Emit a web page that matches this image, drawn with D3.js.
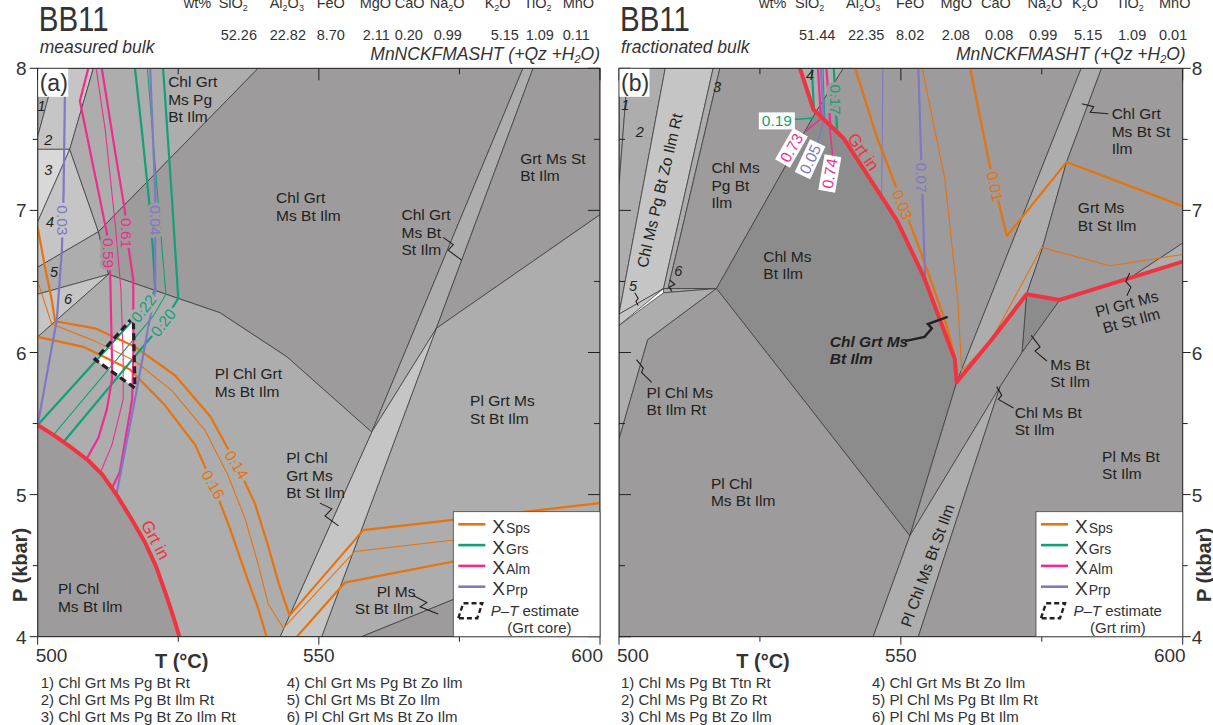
<!DOCTYPE html>
<html>
<head>
<meta charset="utf-8">
<script src="https://cdn.jsdelivr.net/npm/d3@7/dist/d3.min.js"></script>
<style>
  body { margin: 0; background: #fff; }
  svg text { font-family: "Liberation Sans", Arial, Helvetica, sans-serif; }
</style>
</head>
<body>
<svg id="fig" width="1213" height="725"></svg>
<script>
// ---------------- axes ----------------
const tDomain = [500, 600];
const pDomain = [4, 8];
const tMajor = [500, 550, 600];
const tMinor = [525, 575];
const pMajor = [4, 5, 6, 7, 8];
const pMinor = [4.5, 5.5, 6.5, 7.5];

// ---------------- bulk compositions (wt%) ----------------
const oxides = ["SiO2", "Al2O3", "FeO", "MgO", "CaO", "Na2O", "K2O", "TiO2", "MnO"];
const bulkMeasured = [52.26, 22.82, 8.70, 2.11, 0.20, 0.99, 5.15, 1.09, 0.11];
const bulkFractionated = [51.44, 22.35, 8.02, 2.08, 0.08, 0.99, 5.15, 1.09, 0.01];

// ---------------- (a) measured bulk: fields [T °C, P kbar] ----------------
const grtInA = [[500, 5.49], [503, 5.415], [506, 5.33], [509, 5.24], [511.5, 5.14], [514, 5.0],
  [516.5, 4.84], [519, 4.67], [521, 4.5], [522.8, 4.3], [524.2, 4.13], [525.2, 4.0]];

const fieldsA = [
  { name: "Chl Grt Ms Pg Bt Rt", pts: [[500, 8], [503.3, 8], [500, 7.52]] },
  { name: "Chl Grt Ms Pg Bt Ilm Rt", pts: [[503.3, 8], [509.9, 8], [505.7, 7.43], [500, 7.43], [500, 7.52]] },
  { name: "Chl Grt Ms Pg Bt Zo Ilm Rt", pts: [[500, 7.43], [505.7, 7.43], [500, 6.92]] },
  { name: "Chl Grt Ms Pg Bt Zo Ilm", pts: [[500, 6.92], [505.7, 7.43], [510.8, 6.85], [500, 6.6]] },
  { name: "Chl Grt Ms Bt Zo Ilm", pts: [[500, 6.6], [510.8, 6.85], [512.6, 6.55], [500, 6.41]] },
  { name: "Pl Chl Grt Ms Bt Zo Ilm", pts: [[500, 6.41], [512.6, 6.55], [500, 6.11]] },
  { name: "Chl Grt Ms Pg Bt Ilm", pts: [[509.9, 8], [539.2, 8], [510.8, 6.85], [505.7, 7.43]] },
  { name: "Chl Grt Ms Bt Ilm", pts: [[539.2, 8], [586.3, 8], [559.4, 5.44], [544.3, 5.97], [532.4, 6.28], [520.6, 6.44], [512.6, 6.55], [510.8, 6.85]] },
  { name: "Chl Grt Ms Bt St Ilm", pts: [[586.3, 8], [588.1, 8], [570.9, 6.17], [559.4, 5.44]] },
  { name: "Grt Ms St Bt Ilm", pts: [[588.1, 8], [600, 8], [600, 6.97], [570.9, 6.17]] },
  { name: "Pl Grt Ms St Bt Ilm", pts: [[570.9, 6.17], [600, 6.97], [600, 4.68], [557.6, 4], [550.5, 4]] },
  { name: "Pl Ms St Bt Ilm", pts: [[557.6, 4], [600, 4.68], [600, 4]] },
  { name: "Pl Chl Grt Ms Bt St Ilm", pts: [[559.4, 5.44], [570.9, 6.17], [550.5, 4], [543.1, 4]] },
  { name: "Pl Chl Grt Ms Bt Ilm", pts: [[500, 6.11], [512.6, 6.55], [520.6, 6.44], [532.4, 6.28], [544.3, 5.97], [559.4, 5.44], [543.1, 4]].concat(grtInA.slice().reverse()) },
  { name: "Pl Chl Ms Bt Ilm", pts: grtInA.concat([[500, 4]]) }
];

// garnet isopleths (a): step "major" = labelled contour
const isoplethsA = [
  { phase: "Sps", step: "major", pts: [[500, 6.88], [501.3, 6.6], [502.5, 6.37], [503.1, 6.22], [510.2, 6.17], [517.3, 6.04], [524.4, 5.84], [530.7, 5.55], [535.4, 5.21], [538.6, 4.94], [540.9, 4.65], [542.9, 4.37], [544.8, 4.15], [557.9, 4.75], [600, 4.94]] },
  { phase: "Sps", step: "minor", pts: [[500, 6.5], [502.5, 6.2], [510.2, 6.08], [517.3, 5.94], [523.9, 5.73], [529.8, 5.45], [533.8, 5.14], [536.9, 4.83], [539.2, 4.51], [541, 4.23], [543.7, 4.06], [556.4, 4.6], [600, 4.8]] },
  { phase: "Sps", step: "major", pts: [[500, 6.11], [508.1, 6.04], [516.4, 5.88], [522.6, 5.63], [528, 5.35], [531.2, 5.07], [534.2, 4.76], [537, 4.44], [539.2, 4.2], [540.7, 4.0]] },
  { phase: "Sps", step: "major", pts: [[546.1, 4.0], [554.6, 4.38], [600, 4.73]] },
  { phase: "Grs", step: "major", pts: [[517.3, 8], [518.5, 7.57], [519.8, 7.07], [520.5, 6.72], [520.9, 6.44], [518.8, 6.31], [500, 5.49]] },
  { phase: "Grs", step: "minor", pts: [[519.5, 8], [521.4, 7.07], [522.8, 6.41], [520.6, 6.26], [502.8, 5.42]] },
  { phase: "Grs", step: "major", pts: [[522.3, 8], [523.9, 7.07], [525, 6.38], [522.3, 6.21], [504.6, 5.37]] },
  { phase: "Alm", step: "major", pts: [[509, 8], [507.5, 7.77], [512.3, 6.84], [512.9, 6.54], [513.2, 5.97], [513.2, 5.81], [512.3, 5.6], [510.8, 5.4], [508.7, 5.25]] },
  { phase: "Alm", step: "minor", pts: [[510.4, 8], [512, 7.57], [513.9, 6.86], [514.8, 6.44], [515.2, 5.97], [515.2, 5.67], [513.2, 5.35], [511.1, 5.15]] },
  { phase: "Alm", step: "major", pts: [[511.4, 8], [513.7, 7.43], [515.5, 7.0], [515.8, 6.84], [517, 6.51], [517, 5.97], [516.8, 5.67], [514.6, 5.16], [513.2, 5.045]] },
  { phase: "Prp", step: "major", pts: [[504.9, 8], [504.6, 7.12], [504.3, 6.72], [503.4, 6.23], [502.2, 5.97], [500, 5.49]] },
  { phase: "Prp", step: "major", pts: [[520, 8], [520.9, 7.12], [520.9, 6.44], [518.7, 5.97], [517.3, 5.67], [514, 5.0]] }
];
const isoLabelsA = [
  { phase: "Prp", text: "0.03", at: [504.45, 6.93], angle: 90 },
  { phase: "Alm", text: "0.59", at: [512.6, 6.70], angle: 90 },
  { phase: "Alm", text: "0.61", at: [515.8, 6.84], angle: 90 },
  { phase: "Prp", text: "0.04", at: [520.9, 6.93], angle: 90 },
  { phase: "Grs", text: "0.22", at: [518.8, 6.31], angle: -52 },
  { phase: "Grs", text: "0.20", at: [522.3, 6.21], angle: -52 },
  { phase: "Sps", text: "0.14", at: [535.4, 5.21], angle: 58 },
  { phase: "Sps", text: "0.16", at: [531.2, 5.07], angle: 60 }
];
const estimateA = [[517, 6.25], [510.2, 5.95], [517.3, 5.75]];

const fieldLabelsA = [
  { lines: ["Chl Grt", "Ms Pg", "Bt Ilm"], at: [523.2, 7.865] },
  { lines: ["Chl Grt", "Ms Bt Ilm"], at: [542.4, 7.05] },
  { lines: ["Chl Grt", "Ms Bt", "St Ilm"], at: [564.7, 6.93] },
  { lines: ["Grt Ms St", "Bt Ilm"], at: [585.8, 7.33] },
  { lines: ["Pl Chl Grt", "Ms Bt Ilm"], at: [531.5, 5.81] },
  { lines: ["Pl Grt Ms", "St Bt Ilm"], at: [576.9, 5.62] },
  { lines: ["Pl Chl", "Grt Ms", "Bt St Ilm"], at: [544.2, 5.22] },
  { lines: ["Pl Ms"], at: [560.3, 4.28] },
  { lines: ["St Bt Ilm"], at: [556.4, 4.16] },
  { lines: ["Pl Chl", "Ms Bt Ilm"], at: [503.6, 4.30] }
];
const fieldNumbersA = [["1", 500.7, 7.70], ["2", 501.9, 7.46], ["3", 501.9, 7.25], ["4", 502.2, 6.88], ["5", 502.9, 6.53], ["6", 505.4, 6.34]];
const leadersA = [
  [[572.1, 6.81], [573.9, 6.76], [573.0, 6.72], [575.4, 6.65]],
  [[550.2, 4.94], [552.3, 4.90], [551.1, 4.85], [553.5, 4.78]],
  [[566.8, 4.29], [569.2, 4.24], [568.0, 4.21], [571.2, 4.16]]
];
const grtInLabelA = { at: [520.9, 4.68], angle: 62 };
const smallFieldsA = ["Chl Grt Ms Pg Bt Rt", "Chl Grt Ms Pg Bt Ilm Rt", "Chl Grt Ms Pg Bt Zo Ilm Rt",
  "Chl Grt Ms Pg Bt Zo Ilm", "Chl Grt Ms Bt Zo Ilm", "Pl Chl Grt Ms Bt Zo Ilm"];

// ---------------- (b) fractionated bulk ----------------
const grtInB = [[532.1, 8], [534.5, 7.71], [539.8, 7.51], [549.3, 6.93], [554, 6.54], [559.6, 5.95], [559.9, 5.79],
  [566.1, 6.09], [572.3, 6.41], [578.2, 6.37], [600, 6.64]];

const fieldsB = [
  { name: "Chl Ms Pg Bt Ttn Rt", pts: [[500, 8], [501.6, 8], [500, 7.17]] },
  { name: "Chl Ms Pg Bt Zo Rt", pts: [[501.6, 8], [508.2, 8], [500, 6.27], [500, 7.17]] },
  { name: "Chl Ms Pg Bt Zo Ilm Rt", pts: [[508.2, 8], [516.7, 8], [507.9, 6.45], [500, 6.27]] },
  { name: "Chl Ms Pg Bt Zo Ilm", pts: [[516.7, 8], [517.9, 8], [508.7, 6.45], [507.9, 6.45]] },
  { name: "Pl Chl Ms Pg Bt Ilm Rt", pts: [[500, 6.27], [507.9, 6.45], [500, 6.19]] },
  { name: "Pl Chl Ms Pg Bt Ilm", pts: [[507.9, 6.45], [517.3, 6.45], [507.9, 6.42]] },
  { name: "Pl Chl Ms Bt Ilm Rt", pts: [[500, 6.19], [507.9, 6.42], [517.3, 6.45], [505.1, 6.09], [500, 5.39]] },
  { name: "Chl Ms Pg Bt Ilm", pts: [[517.9, 8], [532.1, 8], [534.5, 7.71], [534.9, 7.69], [517.3, 6.45], [508.7, 6.45]] },
  { name: "Chl Grt Ms Bt Zo Ilm", pts: [[532.1, 8], [539.8, 8], [534.9, 7.69], [534.5, 7.71]] },
  { name: "Chl Ms Bt Ilm", pts: [[517.3, 6.45], [534.9, 7.69], [539.8, 7.51], [549.3, 6.93], [554, 6.54], [559.6, 5.95], [559.9, 5.79], [551.6, 4.71]] },
  { name: "Pl Chl Ms Bt Ilm", pts: [[500, 5.39], [505.1, 6.09], [517.3, 6.45], [551.6, 4.71], [545.1, 4], [500, 4]] },
  { name: "Chl Grt Ms Bt Ilm", pts: [[534.9, 7.69], [539.8, 8], [582, 8], [559.9, 5.79], [559.6, 5.95], [554, 6.54], [549.3, 6.93], [539.8, 7.51]] },
  { name: "Chl Grt Ms Bt St Ilm", pts: [[582, 8], [585.6, 8], [579.4, 7.34], [575, 6.72], [572.3, 6.41], [566.1, 6.09], [559.9, 5.79]] },
  { name: "Grt Ms Bt St Ilm", pts: [[585.6, 8], [600, 8], [600, 6.77], [587.4, 6.44], [578.2, 6.37], [572.3, 6.41], [575, 6.72], [579.4, 7.34]] },
  { name: "Pl Grt Ms Bt St Ilm", pts: [[600, 6.77], [600, 6.64], [578.2, 6.37], [587.4, 6.44]] },
  { name: "Ms Bt St Ilm", pts: [[572.3, 6.41], [578.2, 6.37], [571.5, 6.0]] },
  { name: "Chl Ms Bt St Ilm", pts: [[559.9, 5.79], [566.1, 6.09], [572.3, 6.41], [571.5, 6.0], [567.6, 5.76], [551.6, 4.71]] },
  { name: "Pl Chl Ms Bt St Ilm", pts: [[551.6, 4.71], [567.6, 5.76], [553.1, 4], [545.1, 4]] },
  { name: "Pl Ms Bt St Ilm", pts: [[553.1, 4], [567.6, 5.76], [571.5, 6.0], [578.2, 6.37], [600, 6.64], [600, 4]] }
];

const isoplethsB = [
  { phase: "Sps", step: "major", pts: [[541.9, 8], [545.7, 7.52], [549.3, 7.15], [553.4, 6.72], [557.8, 6.23], [559.6, 5.97]] },
  { phase: "Sps", step: "minor", pts: [[553.8, 8], [557.8, 7.22], [560.1, 6.37], [560.8, 5.87], [566.1, 6.09], [575, 6.74], [587.1, 6.61], [600, 6.69]] },
  { phase: "Sps", step: "major", pts: [[562.3, 8], [565.8, 7.31], [568.8, 6.82], [579.4, 7.34], [600, 7.03]] },
  { phase: "Grs", step: "major", pts: [[534.2, 8], [534.6, 7.70]] },
  { phase: "Grs", step: "minor", pts: [[536.2, 8], [536.5, 7.63]] },
  { phase: "Grs", step: "major", pts: [[538.1, 8], [538.7, 7.55]] },
  { phase: "Alm", step: "major", pts: [[535.3, 8], [535.8, 7.665]] },
  { phase: "Alm", step: "major", pts: [[536.8, 8], [537.5, 7.60]] },
  { phase: "Prp", step: "major", pts: [[535.8, 8], [536.3, 7.645]] },
  { phase: "Prp", step: "minor", pts: [[546.8, 8], [546.6, 7.09]] },
  { phase: "Prp", step: "major", pts: [[553.1, 8], [554.3, 6.52]] }
];
const isoLabelsB = [
  { phase: "Grs", text: "0.17", at: [538.4, 7.78], angle: 90 },
  { phase: "Prp", text: "0.07", at: [553.7, 7.23], angle: 90 },
  { phase: "Sps", text: "0.03", at: [550.3, 7.04], angle: 68 },
  { phase: "Sps", text: "0.01", at: [566.7, 7.17], angle: 78 }
];
const boxedLabelsB = [
  { phase: "Alm", text: "0.73", at: [530.6, 7.44], angle: -60, leader: [[533.2, 7.56], [535.7, 7.64]] },
  { phase: "Prp", text: "0.05", at: [533.9, 7.36], angle: -65, leader: [[535.2, 7.47], [536.2, 7.62]] },
  { phase: "Alm", text: "0.74", at: [537.4, 7.26], angle: -80, leader: [[537.9, 7.38], [537.4, 7.58]] },
  { phase: "Grs", text: "0.19", at: [528.0, 7.63], angle: 0, leader: [[531, 7.64], [534.5, 7.65]] }
];
const fieldLabelsB = [
  { lines: ["Chl Ms", "Pg Bt", "Ilm"], at: [516.4, 7.26] },
  { lines: ["Chl Ms", "Bt Ilm"], at: [525.6, 6.64] },
  { lines: ["Chl Grt Ms", "Bt Ilm"], at: [537.4, 6.04], key: true },
  { lines: ["Pl Chl Ms", "Bt Ilm Rt"], at: [504.9, 5.68] },
  { lines: ["Pl Chl", "Ms Bt Ilm"], at: [516.3, 5.04] },
  { lines: ["Ms Bt", "St Ilm"], at: [576.5, 5.88] },
  { lines: ["Chl Ms Bt", "St Ilm"], at: [570.2, 5.54] },
  { lines: ["Pl Ms Bt", "St Ilm"], at: [585.7, 5.23] },
  { lines: ["Grt Ms", "Bt St Ilm"], at: [581.4, 6.98] },
  { lines: ["Chl Grt", "Ms Bt St", "Ilm"], at: [587.4, 7.64] }
];
const rotatedLabelsB = [
  { lines: ["Chl Ms Pg Bt Zo Ilm Rt"], at: [507.3, 7.14], angle: -77 },
  { lines: ["Pl Chl Ms Bt St Ilm"], at: [554.8, 4.50], angle: -70 },
  { lines: ["Pl Grt Ms", "Bt St Ilm"], at: [590.1, 6.34], angle: -15 }
];
const fieldNumbersB = [["1", 501.1, 7.71], ["2", 503.7, 7.52], ["3", 517.4, 7.83], ["4", 533.9, 7.92], ["5", 502.5, 6.43], ["6", 510.5, 6.54]];
const leadersB = [
  { pts: [[550.7, 6.08], [554.2, 6.11], [555.5, 6.17], [554.8, 6.20], [558.3, 6.25]], key: true },
  { pts: [[582.1, 7.75], [584.2, 7.73], [583.6, 7.69], [586.8, 7.68]] },
  { pts: [[590.6, 6.56], [589.9, 6.50], [590.8, 6.46], [590.1, 6.40]] },
  { pts: [[573.1, 6.12], [574.7, 6.04], [573.8, 6.01], [575.9, 5.94]] },
  { pts: [[567.0, 5.76], [567.9, 5.70], [567.3, 5.67], [570.0, 5.61]] },
  { pts: [[503.1, 5.95], [504.3, 5.89], [504.0, 5.86], [505.8, 5.79]] },
  { pts: [[502.8, 6.42], [503.4, 6.38], [503.0, 6.36], [503.4, 6.33]] },
  { pts: [[509.0, 6.51], [509.9, 6.48], [508.9, 6.46], [509.4, 6.43]] }
];
const grtInLabelB = { at: [543.3, 7.41], angle: 55 };
const smallFieldsB = ["Chl Ms Pg Bt Ttn Rt", "Chl Ms Pg Bt Zo Rt", "Chl Ms Pg Bt Zo Ilm",
  "Chl Grt Ms Bt Zo Ilm", "Pl Chl Ms Pg Bt Ilm Rt", "Pl Chl Ms Pg Bt Ilm"];

// ---------------- styling ----------------
const phaseColor = { Sps: "#e8720c", Grs: "#12a078", Alm: "#ee2d8f", Prp: "#7f78c4" };
const grtInColor = "#ef3340";
const shadeByVariance = { 4: "#8d8c8c", 5: "#9d9b9b", 6: "#adadad", 7: "#c5c5c5", 8: "#d8d8d8" };
const ink = "#231f20";
const TOP = 68.3, BOTTOM = 636.7;

const svg = d3.select("#fig");
const fieldFill = name => shadeByVariance[name.split(" ").length];

// digits drawn as subscripts
function withSubscripts(sel, str, size) {
  const parts = str.match(/\d+|\D+/g);
  let lowered = false;
  parts.forEach(s => {
    const isNum = /^\d+$/.test(s);
    const t = sel.append("tspan").text(s);
    if (isNum) { t.attr("font-size", size * 0.62).attr("dy", lowered ? 0 : 3); lowered = true; }
    else if (lowered) { t.attr("dy", -3); lowered = false; }
  });
}

function drawPanel(p) {
  const x = d3.scaleLinear(tDomain, [p.left, p.right]);
  const y = d3.scaleLinear(pDomain, [BOTTOM, TOP]);
  const line = d3.line().x(d => x(d[0])).y(d => y(d[1]));
  const g = svg.append("g");
  const clipId = "plot-clip-" + p.id;
  svg.append("clipPath").attr("id", clipId).append("rect")
    .attr("x", p.left).attr("y", TOP).attr("width", p.right - p.left).attr("height", BOTTOM - TOP);
  const plot = g.append("g").attr("clip-path", `url(#${clipId})`);

  // assemblage fields
  plot.append("g").selectAll("path").data(p.fields).join("path")
    .attr("d", d => line(d.pts) + "Z")
    .attr("fill", d => fieldFill(d.name))
    .attr("stroke", "#3a3a3a").attr("stroke-width", 0.75).attr("stroke-linejoin", "round");

  if (p.estimate) {
    plot.append("path").attr("d", line(p.estimate) + "Z").attr("fill", "#fff");
  }

  // isopleths
  const iso = p.isopleths.slice().sort((a, b) => (a.step === "minor" ? -1 : 1) - (b.step === "minor" ? -1 : 1));
  plot.append("g").selectAll("path").data(iso).join("path")
    .attr("d", d => line(d.pts)).attr("fill", "none")
    .attr("stroke", d => phaseColor[d.phase])
    .attr("stroke-width", d => d.step === "major" ? 2.2 : 1.1)
    .attr("stroke-linejoin", "round");

  // garnet-in
  plot.append("path").attr("d", line(p.grtIn)).attr("fill", "none")
    .attr("stroke", grtInColor).attr("stroke-width", 4).attr("stroke-linejoin", "round");

  if (p.estimate) {
    plot.append("path").attr("d", line(p.estimate) + "Z").attr("fill", "none")
      .attr("stroke", "#222").attr("stroke-width", 3.2).attr("stroke-dasharray", "7,4");
  }

  // frame
  g.append("rect").attr("x", p.left).attr("y", TOP).attr("width", p.right - p.left).attr("height", BOTTOM - TOP)
    .attr("fill", "none").attr("stroke", "#222").attr("stroke-width", 1);

  // ticks
  const tk = g.append("g").attr("stroke", "#222").attr("stroke-width", 1);
  const tickLen = (major) => major ? 8 : 5;
  const inLen = (major) => major ? 12 : 6;
  tMajor.concat(tMinor).forEach(t => {
    const major = tMajor.includes(t);
    tk.append("line").attr("x1", x(t)).attr("x2", x(t)).attr("y1", BOTTOM).attr("y2", BOTTOM + tickLen(major));
    tk.append("line").attr("x1", x(t)).attr("x2", x(t)).attr("y1", TOP).attr("y2", TOP + inLen(major));
  });
  pMajor.concat(pMinor).forEach(v => {
    const major = pMajor.includes(v);
    if (p.id === "a") {
      tk.append("line").attr("x1", p.left - tickLen(major)).attr("x2", p.left).attr("y1", y(v)).attr("y2", y(v));
      tk.append("line").attr("x1", p.right - inLen(major)).attr("x2", p.right).attr("y1", y(v)).attr("y2", y(v));
    } else {
      tk.append("line").attr("x1", p.left).attr("x2", p.left + inLen(major)).attr("y1", y(v)).attr("y2", y(v));
      tk.append("line").attr("x1", p.right).attr("x2", p.right + tickLen(major)).attr("y1", y(v)).attr("y2", y(v));
    }
  });
  // tick labels
  const tl = g.append("g").attr("font-size", 19).attr("fill", "#333");
  tMajor.forEach((t, i) => {
    tl.append("text").attr("x", x(t) + (i === 0 ? -2 : i === 2 ? 3 : 0)).attr("y", 662)
      .attr("text-anchor", i === 0 ? "start" : i === 2 ? "end" : "middle").text(t);
  });
  pMajor.forEach(v => {
    if (p.id === "a") tl.append("text").attr("x", p.left - 11).attr("y", y(v) + 7).attr("text-anchor", "end").text(v);
    else tl.append("text").attr("x", p.right + 9).attr("y", y(v) + 7).attr("text-anchor", "start").text(v);
  });
  g.append("text").attr("x", p.left + 144).attr("y", 668).attr("text-anchor", "middle")
    .attr("font-size", 20).attr("font-weight", "bold").attr("fill", "#333").text("T (°C)");
  const px = p.id === "a" ? 20 : 1204;
  g.append("text").attr("transform", `translate(${px},565) rotate(-90)`).attr("text-anchor", "middle")
    .attr("font-size", 20).attr("font-weight", "bold").attr("fill", "#333").attr("dy", 7).text("P (kbar)");

  // leaders
  const lead = g.append("g").attr("fill", "none").attr("stroke", ink);
  p.leaders.forEach(l => {
    const pts = l.pts || l;
    lead.append("path").attr("d", line(pts)).attr("stroke-width", l.key ? 2.4 : 1.1);
  });

  // field labels
  const fl = g.append("g").attr("font-size", 15.5).attr("fill", ink);
  p.fieldLabels.forEach(f => {
    const t = fl.append("text").attr("x", x(f.at[0])).attr("y", y(f.at[1]));
    if (f.key) t.attr("font-weight", "bold").attr("font-style", "italic");
    f.lines.forEach((s, i) => t.append("tspan").attr("x", x(f.at[0])).attr("dy", i === 0 ? 0 : 17.5).text(s));
  });
  (p.rotatedLabels || []).forEach(f => {
    const t = fl.append("text").attr("text-anchor", "middle")
      .attr("transform", `translate(${x(f.at[0])},${y(f.at[1])}) rotate(${f.angle})`).attr("dy", 5);
    f.lines.forEach((s, i) => t.append("tspan").attr("x", 0).attr("dy", i === 0 ? 5 : 17.5).text(s));
  });
  p.numbers.forEach(([s, T, P]) => {
    fl.append("text").attr("x", x(T)).attr("y", y(P)).attr("text-anchor", "middle")
      .attr("font-style", "italic").attr("font-size", 14.5).text(s);
  });

  // isopleth labels: knocked out of the field colour beneath
  const bgAt = (T, P) => {
    const f = p.fields.slice().reverse().find(f => d3.polygonContains(f.pts, [T, P]));
    return f ? fieldFill(f.name) : "#fff";
  };
  p.isoLabels.forEach(l => {
    g.append("text").attr("transform", `translate(${x(l.at[0])},${y(l.at[1])}) rotate(${l.angle})`)
      .attr("text-anchor", "middle").attr("dy", 5.5).attr("font-size", 15.5)
      .attr("fill", phaseColor[l.phase]).attr("stroke", bgAt(l.at[0], l.at[1]))
      .attr("stroke-width", 6).attr("stroke-linejoin", "round").attr("paint-order", "stroke").text(l.text);
  });
  (p.boxed || []).forEach(l => {
    g.append("path").attr("d", line(l.leader)).attr("fill", "none")
      .attr("stroke", phaseColor[l.phase]).attr("stroke-width", 1.6);
  });
  (p.boxed || []).forEach(l => {
    const gg = g.append("g").attr("transform", `translate(${x(l.at[0])},${y(l.at[1])}) rotate(${l.angle})`);
    gg.append("rect").attr("x", -18).attr("y", -8.5).attr("width", 36).attr("height", 17).attr("fill", "#fff");
    gg.append("text").attr("text-anchor", "middle").attr("dy", 5.5).attr("font-size", 15.5)
      .attr("fill", phaseColor[l.phase]).text(l.text);
  });
  g.append("text").attr("transform", `translate(${x(p.grtInLabel.at[0])},${y(p.grtInLabel.at[1])}) rotate(${p.grtInLabel.angle})`)
    .attr("text-anchor", "middle").attr("dy", 5.5).attr("font-size", 17).attr("fill", grtInColor).text("Grt in");

  // panel letter
  g.append("rect").attr("x", p.left + 0.5).attr("y", TOP + 0.5).attr("width", 30).attr("height", 28).attr("fill", "#fff");
  g.append("text").attr("x", p.left + 2).attr("y", TOP + 23).attr("font-size", 23).attr("fill", "#333").text(`(${p.id})`);

  // legend
  const lg = g.append("g").attr("transform", `translate(${p.right - 146.7},511.7)`);
  lg.append("rect").attr("width", 146.7).attr("height", 125).attr("fill", "#fff").attr("stroke", "#444").attr("stroke-width", 0.8);
  ["Sps", "Grs", "Alm", "Prp"].forEach((ph, i) => {
    const yy = 12.6 + i * 20.8;
    lg.append("line").attr("x1", 5).attr("x2", 32).attr("y1", yy).attr("y2", yy)
      .attr("stroke", phaseColor[ph]).attr("stroke-width", 2.6);
    const t = lg.append("text").attr("x", 39).attr("y", yy + 8.5).attr("fill", "#333");
    t.append("tspan").attr("font-size", 19).text("X");
    t.append("tspan").attr("font-size", 14).attr("dx", 1).text(ph);
  });
  lg.append("path").attr("d", "M5,106.5 L10,91.5 L29,91.5 L24,106.5 Z").attr("fill", "none")
    .attr("stroke", "#222").attr("stroke-width", 2.4).attr("stroke-dasharray", "5,3");
  const et = lg.append("text").attr("x", 37.5).attr("y", 104.5).attr("font-size", 15).attr("fill", "#333");
  et.append("tspan").attr("font-style", "italic").text("P");
  et.append("tspan").text("–");
  et.append("tspan").attr("font-style", "italic").text("T");
  et.append("tspan").text(" estimate");
  lg.append("text").attr("x", 54).attr("y", 121.5).attr("font-size", 15).attr("fill", "#333").text(p.rimCore);

  // header
  const hd = g.append("g").attr("fill", "#333");
  hd.append("text").attr("transform", `translate(${p.left + 1},31) scale(0.82,1)`).attr("font-size", 36).text("BB11");
  hd.append("text").attr("x", p.left + 2).attr("y", 53).attr("font-size", 17.5).attr("font-style", "italic").text(p.subtitle);
  const sys = hd.append("text").attr("x", p.right + p.sysShift).attr("y", 60).attr("font-size", 17.5)
    .attr("font-style", "italic").attr("text-anchor", "end");
  withSubscripts(sys, "MnNCKFMASHT (+Qz +H2O)", 17.5);
  hd.append("text").attr("x", p.left + p.wtAt).attr("y", 8).attr("font-size", 14.5).text("wt%");
  oxides.forEach((ox, i) => {
    const t = hd.append("text").attr("x", p.left + p.oxAt[i]).attr("y", 8).attr("font-size", 14.5);
    withSubscripts(t, ox, 14.5);
    hd.append("text").attr("x", p.left + p.numAt[i]).attr("y", 40).attr("font-size", 14.5)
      .text(p.bulk[i].toFixed(2));
  });

  // small-field key
  const key = g.append("g").attr("font-size", 15).attr("fill", "#333");
  p.small.forEach((s, i) => {
    const col = i < 3 ? 0 : 1;
    key.append("text").attr("x", p.left + p.keyCols[col]).attr("y", 688 + (i % 3) * 17)
      .text(`${i + 1}) ${s}`);
  });
}

drawPanel({
  id: "a", left: 37.7, right: 600,
  fields: fieldsA, isopleths: isoplethsA, grtIn: grtInA, estimate: estimateA,
  isoLabels: isoLabelsA, fieldLabels: fieldLabelsA, numbers: fieldNumbersA, leaders: leadersA,
  grtInLabel: grtInLabelA, rimCore: "(Grt core)", subtitle: "measured bulk", bulk: bulkMeasured,
  small: smallFieldsA, keyCols: [3, 249], sysShift: 0,
  wtAt: 146, oxAt: [181, 232, 279, 322, 357, 392, 447, 486, 525], numAt: [183, 232, 279, 325, 357, 396, 453, 488, 525]
});
drawPanel({
  id: "b", left: 619, right: 1182.7,
  fields: fieldsB, isopleths: isoplethsB, grtIn: grtInB, estimate: null,
  isoLabels: isoLabelsB, boxed: boxedLabelsB, fieldLabels: fieldLabelsB, rotatedLabels: rotatedLabelsB,
  numbers: fieldNumbersB, leaders: leadersB,
  grtInLabel: grtInLabelB, rimCore: "(Grt rim)", subtitle: "fractionated bulk", bulk: bulkFractionated,
  small: smallFieldsB, keyCols: [2, 253], sysShift: 3,
  wtAt: 140, oxAt: [176, 227, 277, 321.5, 362, 408.5, 453, 497, 540], numAt: [180, 229, 277, 322.7, 366, 410, 455, 499, 540]
});
</script>
</body>
</html>
